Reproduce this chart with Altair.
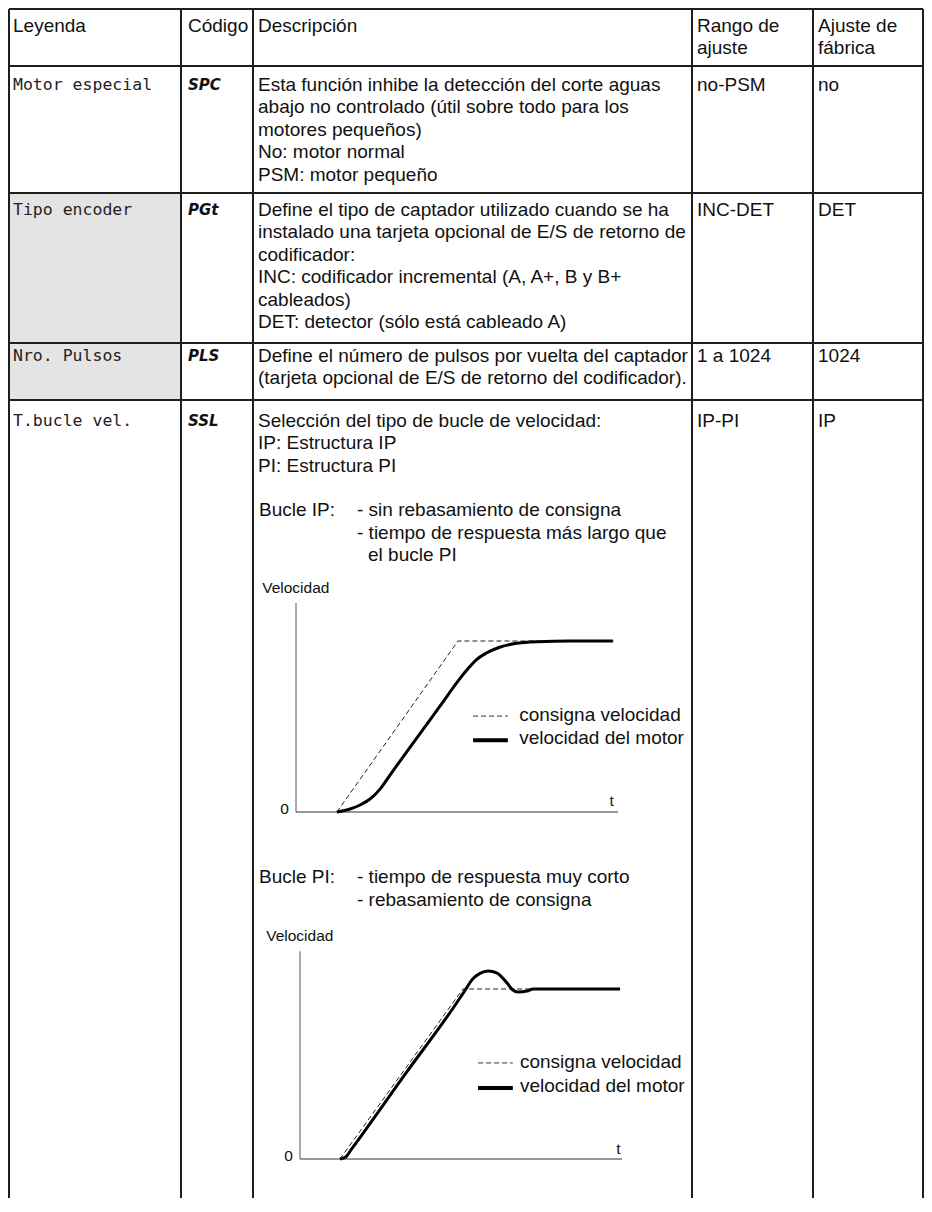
import altair as alt
import pandas as pd

# ---------------- table content ----------------
header_labels = [["Leyenda"], ["Código"], ["Descripción"], ["Rango de", "ajuste"], ["Ajuste de", "fábrica"]]
legend_labels = ["Motor especial", "Tipo encoder", "Nro. Pulsos", "T.bucle vel."]
codes = ["SPC", "PGt", "PLS", "SSL"]
descriptions = [
    ["Esta función inhibe la detección del corte aguas",
     "abajo no controlado (útil sobre todo para los",
     "motores pequeños)",
     "No: motor normal",
     "PSM: motor pequeño"],
    ["Define el tipo de captador utilizado cuando se ha",
     "instalado una tarjeta opcional de E/S de retorno de",
     "codificador:",
     "INC: codificador incremental (A, A+, B y B+",
     "cableados)",
     "DET: detector (sólo está cableado A)"],
    ["Define el número de pulsos por vuelta del captador",
     "(tarjeta opcional de E/S de retorno del codificador)."],
    ["Selección del tipo de bucle de velocidad:",
     "IP: Estructura IP",
     "PI: Estructura PI"],
]
ranges = ["no-PSM", "INC-DET", "1 a 1024", "IP-PI"]
factory = ["no", "DET", "1024", "IP"]
grey_rows = [1, 2]

ip_title = "Bucle IP:"
ip_notes = ["- sin rebasamiento de consigna", "- tiempo de respuesta más largo que", "el bucle PI"]
pi_title = "Bucle PI:"
pi_notes = ["- tiempo de respuesta muy corto", "- rebasamiento de consigna"]

axis_label = "Velocidad"
zero_label = "0"
time_label = "t"
legend_texts = ["consigna velocidad", "velocidad del motor"]

# ---------------- curve data (t, velocidad) ----------------
ip_set_t = [1.27, 5.03, 9.9]
ip_set_v = [0.0, 1.0, 1.0]
ip_motor_t = [1.27, 1.68, 1.99, 2.3, 2.61, 2.92, 3.23, 3.63, 4.47, 5.09, 5.35, 5.6, 5.9, 6.3, 6.8, 7.5, 8.5, 9.84]
ip_motor_v = [0.0, 0.0175, 0.041, 0.076, 0.134, 0.216, 0.298, 0.401, 0.619, 0.78, 0.84, 0.89, 0.928, 0.962, 0.985, 0.996, 1.0, 1.0]

pi_set_t = [1.24, 5.06, 9.94]
pi_set_v = [0.0, 1.0, 1.0]
pi_motor_t = [1.24, 1.42, 1.6, 3.3, 4.8, 5.1, 5.37, 5.59, 5.84, 6.12, 6.43, 6.61, 6.77, 7.05, 7.24, 9.94]
pi_motor_v = [0.0, 0.012, 0.058, 0.508, 0.9, 0.985, 1.06, 1.092, 1.106, 1.094, 1.035, 0.994, 0.982, 0.988, 1.0, 1.0]

# ---------------- layout (page pixels) ----------------
W, H = 916, 1190
col_edges = [9, 181, 253, 692, 813, 923]
row_edges = [9, 66, 193, 343, 400]
table_bottom = 1212
col_text_x = [13, 188, 258, 697, 818]
header_base = 31.5
row_base = [90.5, 215.5, 361.5, 426.5]
LINE = 22.5
ip_block_base = 516
pi_block_base = 883
note_x = [259, 357, 368]

BODY_FONT = "Liberation Sans"
INK = "#111111"

TX = alt.Scale(domain=[8, 8 + W], range=[0, W], nice=False, zero=False)
TY = alt.Scale(domain=[8, 8 + H], range=[0, H], nice=False, zero=False)


def tx(f):
    return alt.X(f + ":Q", scale=TX, axis=None)


def ty(f):
    return alt.Y(f + ":Q", scale=TY, axis=None)


# grey cells
grey_df = pd.DataFrame({
    "x": [col_edges[0]] * len(grey_rows),
    "x2": [col_edges[1]] * len(grey_rows),
    "y": [row_edges[r + 1] for r in grey_rows],
    "y2": [row_edges[r + 2] if r + 2 < len(row_edges) else table_bottom for r in grey_rows],
})
grey = alt.Chart(grey_df).mark_rect(color="#e4e4e4").encode(
    x=tx("x"), x2="x2", y=ty("y"), y2="y2")

vlines_df = pd.DataFrame({"x": col_edges, "y": [row_edges[0]] * len(col_edges),
                          "y2": [table_bottom] * len(col_edges)})
vlines = alt.Chart(vlines_df).mark_rule(color="#1e1e1e", strokeWidth=2).encode(
    x=tx("x"), y=ty("y"), y2="y2")
hlines_df = pd.DataFrame({"y": row_edges, "x": [col_edges[0]] * len(row_edges),
                          "x2": [col_edges[-1]] * len(row_edges)})
hlines = alt.Chart(hlines_df).mark_rule(color="#1e1e1e", strokeWidth=2).encode(
    y=ty("y"), x=tx("x"), x2="x2")

# body text (Arial-like)
body_rows = []
for ci, lines in enumerate(header_labels):
    for li, s in enumerate(lines):
        body_rows.append({"x": col_text_x[ci], "y": header_base + li * LINE, "s": s})
for ri in range(len(descriptions)):
    for li, s in enumerate(descriptions[ri]):
        body_rows.append({"x": col_text_x[2], "y": row_base[ri] + li * LINE, "s": s})
    body_rows.append({"x": col_text_x[3], "y": row_base[ri], "s": ranges[ri]})
    body_rows.append({"x": col_text_x[4], "y": row_base[ri], "s": factory[ri]})
body_rows.append({"x": note_x[0], "y": ip_block_base, "s": ip_title})
body_rows.append({"x": note_x[1], "y": ip_block_base, "s": ip_notes[0]})
body_rows.append({"x": note_x[1], "y": ip_block_base + LINE, "s": ip_notes[1]})
body_rows.append({"x": note_x[2], "y": ip_block_base + 2 * LINE, "s": ip_notes[2]})
body_rows.append({"x": note_x[0], "y": pi_block_base, "s": pi_title})
body_rows.append({"x": note_x[1], "y": pi_block_base, "s": pi_notes[0]})
body_rows.append({"x": note_x[1], "y": pi_block_base + LINE, "s": pi_notes[1]})
body = alt.Chart(pd.DataFrame(body_rows)).mark_text(
    align="left", baseline="alphabetic", font=BODY_FONT, fontSize=19, color=INK
).encode(x=tx("x"), y=ty("y"), text="s:N")

leg_df = pd.DataFrame({"x": [col_text_x[0]] * 4, "y": [b - 1 for b in row_base], "s": legend_labels})
leg = alt.Chart(leg_df).mark_text(
    align="left", baseline="alphabetic", font="DejaVu Sans Mono", fontSize=16.5, color="#222222"
).encode(x=tx("x"), y=ty("y"), text="s:N")

code_df = pd.DataFrame({"x": [col_text_x[1]] * 4, "y": [b - 1 for b in row_base], "s": codes})
code = alt.Chart(code_df).mark_text(
    align="left", baseline="alphabetic", font="DejaVu Sans", fontSize=15,
    fontWeight="bold", fontStyle="italic", color="#111111"
).encode(x=tx("x"), y=ty("y"), text="s:N")

table = alt.layer(grey, vlines, hlines, body, leg, code)


# ---------------- small charts ----------------
def small_chart(set_t, set_v, mot_t, mot_v, xr, yr, leg_dash_v, leg_solid_v, leg_t, t_pos, t_v):
    sx = alt.Scale(domain=[0, 10], range=xr, nice=False, zero=False)
    sy = alt.Scale(domain=[0, 1], range=yr, nice=False, zero=False)

    def cx(f):
        return alt.X(f + ":Q", scale=sx, axis=None)

    def cy(f):
        return alt.Y(f + ":Q", scale=sy, axis=None)

    yaxis = alt.Chart(pd.DataFrame({"t": [0], "v": [0], "v2": [1.222]})).mark_rule(
        color="#555555", strokeWidth=1).encode(x=cx("t"), y=cy("v"), y2="v2")
    xaxis = alt.Chart(pd.DataFrame({"t": [0], "t2": [10], "v": [0]})).mark_rule(
        color="#333333", strokeWidth=1).encode(x=cx("t"), x2="t2", y=cy("v"))
    setp = alt.Chart(pd.DataFrame({"t": set_t, "v": set_v})).mark_line(
        color="#222222", strokeWidth=1, strokeDash=[5, 3]).encode(x=cx("t"), y=cy("v"))
    mot = alt.Chart(pd.DataFrame({"t": mot_t, "v": mot_v})).mark_line(
        color="#000000", strokeWidth=3, interpolate="monotone").encode(x=cx("t"), y=cy("v"))
    lab_vel = alt.Chart(pd.DataFrame({"t": [-1.05], "v": [1.28], "s": [axis_label]})).mark_text(
        baseline="alphabetic", font=BODY_FONT, fontSize=15.5, color=INK, align="left"
    ).encode(x=cx("t"), y=cy("v"), text="s:N")
    lab_zero = alt.Chart(pd.DataFrame({"t": [-0.22], "v": [-0.012], "s": [zero_label]})).mark_text(
        baseline="alphabetic", font=BODY_FONT, fontSize=15.5, color=INK, align="right"
    ).encode(x=cx("t"), y=cy("v"), text="s:N")
    lab_t = alt.Chart(pd.DataFrame({"t": [t_pos], "v": [t_v], "s": [time_label]})).mark_text(
        baseline="alphabetic", font=BODY_FONT, fontSize=15.5, color=INK, align="center"
    ).encode(x=cx("t"), y=cy("v"), text="s:N")
    leg_dash = alt.Chart(pd.DataFrame({"t": [leg_t[0]], "t2": [leg_t[1]], "v": [leg_dash_v]})).mark_rule(
        color="#333333", strokeWidth=1, strokeDash=[5, 3]).encode(x=cx("t"), x2="t2", y=cy("v"))
    leg_solid = alt.Chart(pd.DataFrame({"t": [leg_t[0]], "t2": [leg_t[1]], "v": [leg_solid_v]})).mark_rule(
        color="#000000", strokeWidth=4).encode(x=cx("t"), x2="t2", y=cy("v"))
    leg_txt = alt.Chart(pd.DataFrame({"t": [leg_t[2], leg_t[2]],
                                      "v": [leg_dash_v - 0.03, leg_solid_v - 0.025],
                                      "s": legend_texts})).mark_text(
        baseline="alphabetic", font=BODY_FONT, fontSize=19, color=INK, align="left"
    ).encode(x=cx("t"), y=cy("v"), text="s:N")
    return alt.layer(yaxis, xaxis, setp, mot, lab_vel, lab_zero, lab_t, leg_dash, leg_solid, leg_txt)


ip_chart = small_chart(ip_set_t, ip_set_v, ip_motor_t, ip_motor_v,
                       [296 - 8, 618 - 8], [812 - 8, 641 - 8],
                       0.561, 0.42, [5.5, 6.58, 6.93], 9.8, 0.035)
pi_chart = small_chart(pi_set_t, pi_set_v, pi_motor_t, pi_motor_v,
                       [300 - 8, 622 - 8], [1159 - 8, 989 - 8],
                       0.565, 0.418, [5.53, 6.61, 6.83], 9.89, 0.03)

chart = alt.layer(table, ip_chart, pi_chart).resolve_scale(
    x="independent", y="independent"
).properties(
    width=W, height=H, padding=0, background="white",
    autosize=alt.AutoSizeParams(type="none")
).configure_view(strokeWidth=0)

chart.save("out.html", embed_options={"renderer": "svg", "actions": False})
